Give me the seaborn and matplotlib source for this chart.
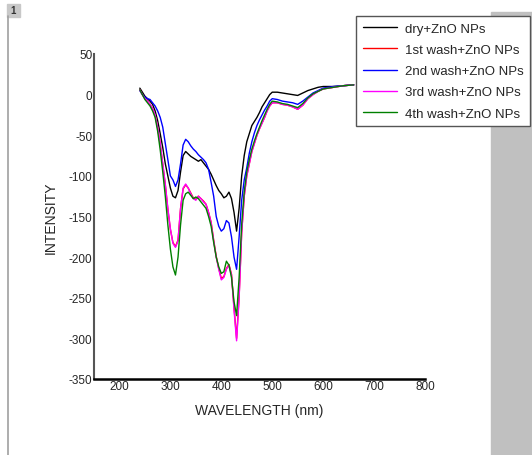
import numpy as np
import pandas as pd
import matplotlib
matplotlib.use("Agg")
import matplotlib.pyplot as plt
import seaborn as sns
from matplotlib.patches import Rectangle
from matplotlib.lines import Line2D

# ===== DATA =====
wavelength = [240, 245, 250, 255, 260, 265, 270, 275, 280, 285, 290, 295, 300, 305,
              310, 315, 320, 325, 330, 335, 340, 345, 350, 355, 360, 365, 370, 375,
              380, 385, 390, 395, 400, 405, 410, 415, 420, 425, 430, 435, 440, 445,
              450, 455, 460, 465, 470, 475, 480, 485, 490, 495, 500, 510, 520, 530,
              540, 550, 560, 570, 580, 590, 600, 620, 640, 660]

dry = [8, 3, -2, -5, -8, -12, -20, -32, -48, -65, -85, -100, -115, -125,
       -127, -118, -95, -75, -70, -73, -76, -78, -80, -82, -80, -84, -88, -92,
       -98, -105, -112, -118, -122, -127, -125, -120, -128, -145, -168, -140, -100, -75,
       -58, -48, -38, -33, -28, -22, -15, -10, -5, 0, 3, 3, 2, 1,
       0, -1, 2, 5, 7, 9, 10, 10, 11, 12]

wash1 = [6, 0, -5, -8, -12, -17, -26, -41, -61, -86, -111, -141, -166, -182,
         -187, -179, -140, -116, -111, -115, -121, -127, -129, -125, -128, -131, -135, -145,
         -157, -179, -199, -214, -226, -224, -214, -209, -221, -262, -300, -248, -170, -125,
         -100, -85, -70, -60, -50, -42, -35, -28, -20, -14, -10, -10, -12, -13,
         -15, -18, -13, -5, 0, 4, 7, 9, 11, 12]

wash2 = [5, 0, -3, -5, -6, -10, -14, -20, -28, -40, -60, -80, -100, -105,
         -113, -105, -85, -62, -55, -58, -63, -67, -70, -74, -77, -80, -84, -92,
         -108, -125, -150, -162, -168, -165, -155, -158, -175, -200, -215, -175, -130, -105,
         -90, -72, -58, -47, -38, -31, -25, -19, -14, -8, -5, -6, -8, -9,
         -10, -12, -8, -3, 2, 5, 8, 10, 11, 12]

wash3 = [6, 0, -5, -8, -12, -17, -25, -40, -60, -85, -110, -140, -165, -183,
         -188, -180, -140, -115, -110, -115, -122, -128, -130, -125, -128, -132, -135, -145,
         -158, -180, -200, -215, -228, -225, -215, -210, -222, -265, -303, -250, -170, -125,
         -100, -85, -70, -60, -50, -42, -35, -28, -20, -14, -10, -10, -12, -13,
         -15, -18, -13, -5, 0, 4, 7, 9, 11, 12]

wash4 = [6, 0, -6, -10, -14, -20, -28, -45, -68, -95, -125, -160, -190, -212,
         -222, -200, -160, -130, -122, -120, -124, -128, -126, -128, -132, -136, -140, -150,
         -162, -182, -200, -212, -220, -218, -205, -210, -225, -255, -272, -225, -160, -120,
         -95, -80, -67, -57, -48, -40, -32, -25, -18, -12, -8, -9, -11, -12,
         -14, -16, -11, -4, 1, 4, 7, 9, 11, 12]

labels = ["dry+ZnO NPs", "1st wash+ZnO NPs", "2nd wash+ZnO NPs",
          "3rd wash+ZnO NPs", "4th wash+ZnO NPs"]
colors = ["#000000", "#ff0000", "#0000ff", "#ff00ff", "#008000"]

df = pd.DataFrame({
    "wavelength": wavelength * 5,
    "intensity": dry + wash1 + wash2 + wash3 + wash4,
    "series": sum([[lab] * len(wavelength) for lab in labels], []),
})

# ===== PLOT =====
sns.set_style("white")
plt.rcParams["font.family"] = ["Liberation Sans", "DejaVu Sans"]
plt.rcParams["axes.unicode_minus"] = False

fig = plt.figure(figsize=(5.32, 4.56), dpi=100)
ax = fig.add_axes([94 / 532, 1 - 380 / 456, (425 - 94) / 532, (380 - 55) / 456])

sns.lineplot(data=df, x="wavelength", y="intensity", hue="series",
             hue_order=labels, palette=colors, linewidth=1.0, ax=ax, legend=False)

ax.set_xlim(150, 800)
ax.set_ylim(-350, 50)
ax.set_xticks(range(200, 801, 100))
ax.set_yticks(range(-350, 51, 50))
ax.tick_params(length=0, labelsize=8.5, pad=1)
for s in ["top", "right"]:
    ax.spines[s].set_visible(False)
ax.spines["left"].set_color("#555555")
ax.spines["left"].set_linewidth(1.5)
ax.spines["bottom"].set_color("#000000")
ax.spines["bottom"].set_linewidth(1.8)
ax.set_xlabel("WAVELENGTH (nm)", fontsize=10, labelpad=8)
ax.set_ylabel("INTENSITY", fontsize=10, labelpad=8)

# window decoration: gray band right, thin left border and "1" tag
fig.patches.append(Rectangle((491 / 532, 0), 41 / 532, 1 - 13 / 456,
                             transform=fig.transFigure, color="#c0c0c0", zorder=0))
fig.lines.append(Line2D([8 / 532, 8 / 532], [0, 1 - 17 / 456],
                        transform=fig.transFigure, color="#a0a0a0", linewidth=1.2))
fig.patches.append(Rectangle((7 / 532, 1 - 18 / 456), 13 / 532, 13 / 456,
                             transform=fig.transFigure, color="#c8c8c8", zorder=1))
fig.text(13.5 / 532, 1 - 11.5 / 456, "1", fontsize=7, fontweight="bold",
         ha="center", va="center", color="#333333")

handles = [Line2D([0], [0], color=c, linewidth=1.0) for c in colors]
leg = fig.legend(handles, labels, loc="upper left",
                 bbox_to_anchor=(356 / 532, 1 - 17 / 456), fontsize=9.5,
                 frameon=True, fancybox=False, framealpha=1, edgecolor="#555555",
                 handlelength=2.6, handletextpad=0.6, labelspacing=0.68,
                 borderpad=0.5, borderaxespad=0)
leg.get_frame().set_linewidth(1.0)
leg.set_zorder(5)

fig.savefig("out.png", dpi=100, facecolor="white")
